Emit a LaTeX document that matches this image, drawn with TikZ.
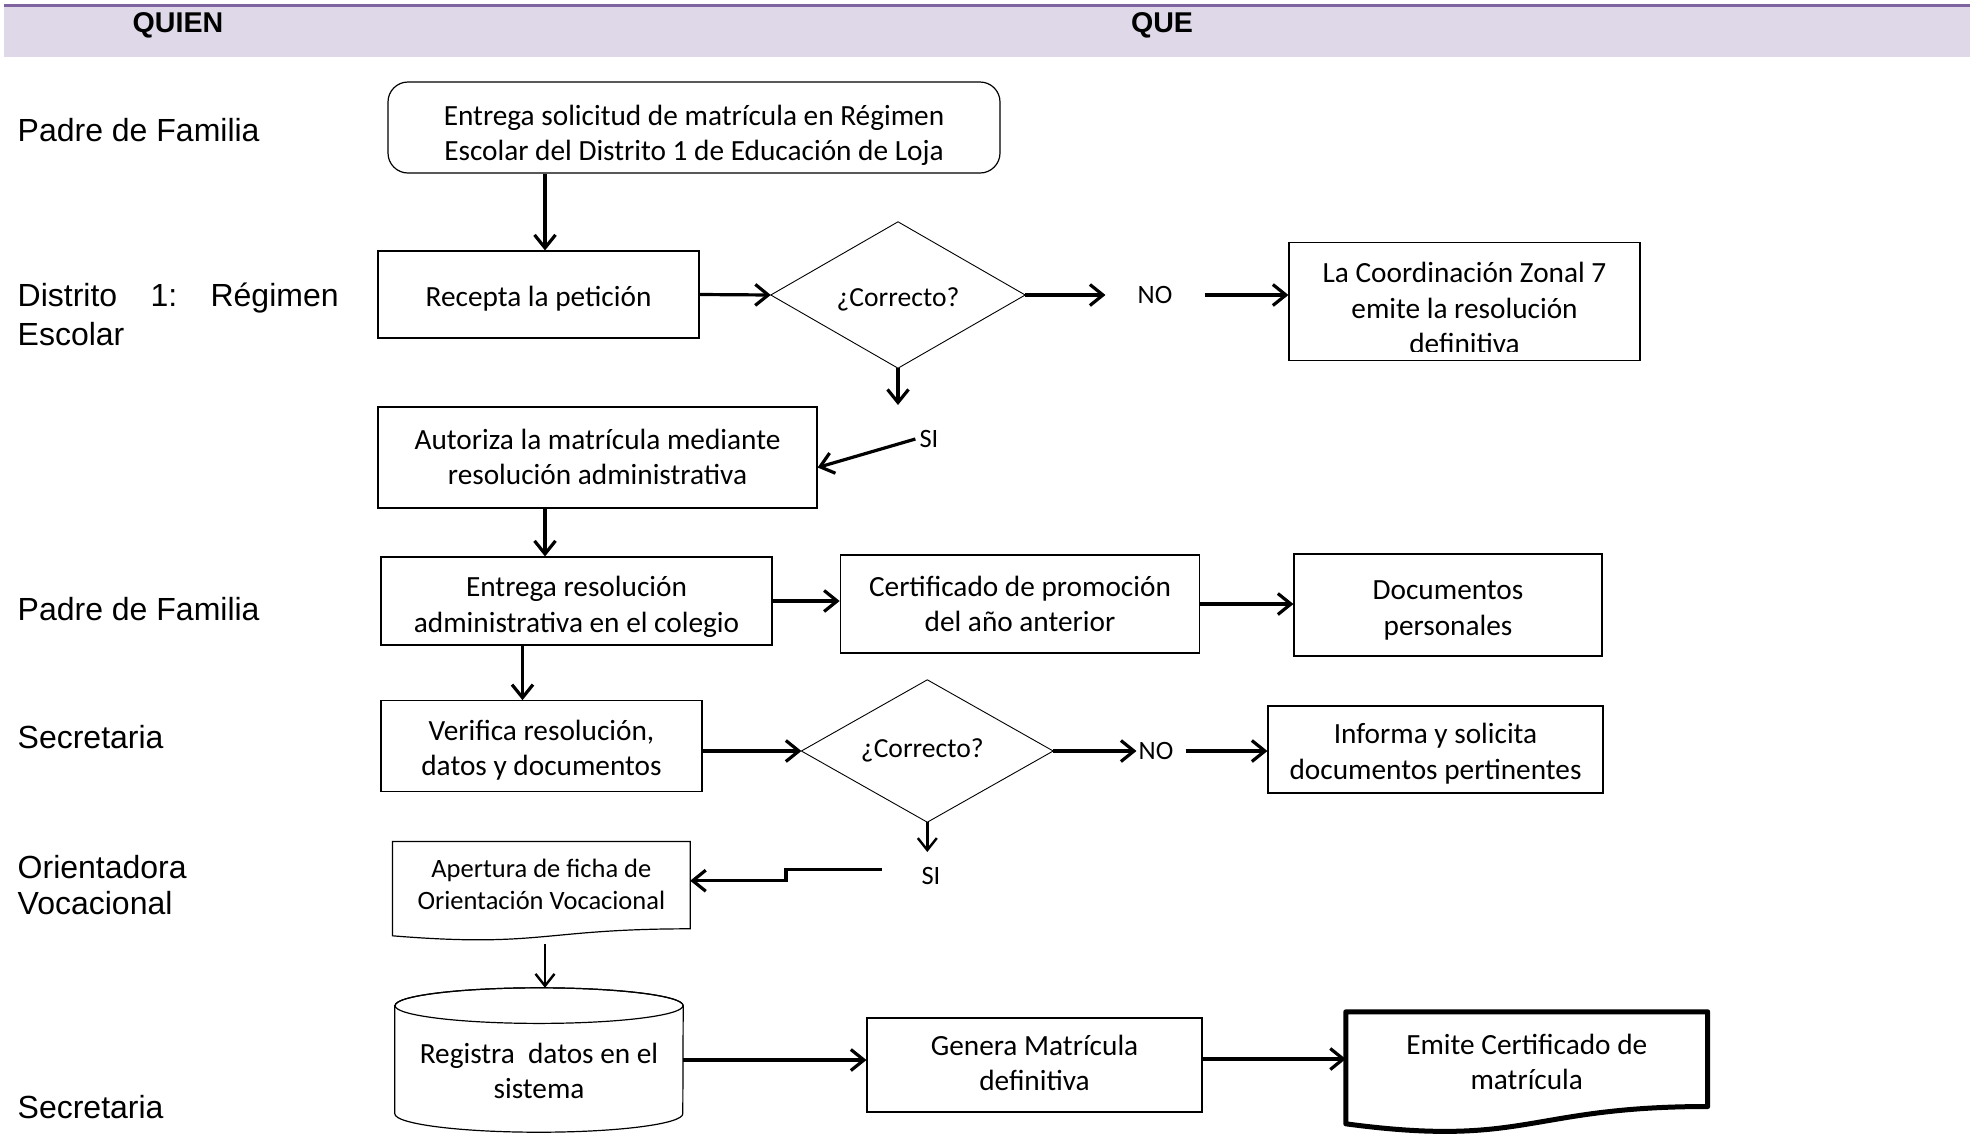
\documentclass[tikz,border=0pt]{standalone}
\usepackage{fontspec}
\setmainfont{Carlito}
\newfontfamily\labelfont{Liberation Sans}
\usetikzlibrary{arrows.meta,calc}
\definecolor{bandline}{HTML}{8064A2}
\definecolor{bandfill}{HTML}{DFD8E8}
\newcommand\boxsize{\fontsize{29.3}{35.6}\selectfont}
\newcommand\smallbox{\fontsize{26.5}{32}\selectfont}
\newcommand\asksize{\fontsize{27.6}{33}\selectfont}
\newcommand\whosize{\labelfont\fontsize{32}{38}\selectfont}
\newcommand\headsize{\labelfont\bfseries\fontsize{28.6}{34}\selectfont}
% centred lines of text, lowered by #1 pt without changing the box extents
\newcommand\drop[2]{\raisebox{-#1pt}[\height][\depth]{\begin{tabular}{@{}c@{}}#2\end{tabular}}}

\begin{document}
\begin{tikzpicture}[x=1pt,y=-1pt,
  every node/.style={inner sep=0pt},
  box/.style={draw=black,line width=1.2pt,fill=white,align=center,font=\boxsize},
  outline/.style={draw=black,line width=1.2pt,fill=white},
  thinline/.style={draw=black,line width=0.9pt},
  who/.style={anchor=base west,font=\whosize},
  tag/.style={font=\smallbox},
  arr/.style={line width=3.2pt,-{Straight Barb[length=13pt,width=21pt]}},
  arrthin/.style={line width=2.4pt,-{Straight Barb[length=12pt,width=19pt]}}
]
\useasboundingbox (0,0) rectangle (1970,1141);

% header band
\fill[bandfill] (4,6) rectangle (1970,57);
\fill[bandline] (4,3.5) rectangle (1970,7);
\node[font=\headsize] (hquien) at (178,25.5) {QUIEN};
\node[font=\headsize] (hque) at (1162,25.5) {QUE};

% who column
\node[who] (w1) at (17.5,141.5) {Padre de Familia};
\node[who] (w2a) at (17.5,306.7) {\makebox[321pt][l]{Distrito\hfill 1:\hfill Régimen}};
\node[who] (w2b) at (17.5,345) {Escolar};
\node[who] (w3) at (17.5,620) {Padre de Familia};
\node[who] (w4) at (17.5,748) {Secretaria};
\node[who] (w5a) at (17.5,878) {Orientadora};
\node[who] (w5b) at (17.5,914) {Vocacional};
\node[who] (w6) at (17.5,1118) {Secretaria};

% request and first check
\node[box,rounded corners=20pt,minimum width=612,minimum height=91] (n1) at (694,127.5)
  {\drop{8.5}{Entrega solicitud de matrícula en Régimen\\Escolar del Distrito 1 de Educación de Loja}};
\node[box,minimum width=321,minimum height=87] (n2) at (538.5,294.5) {\drop{5}{Recepta la petición}};
\node[minimum width=254,minimum height=146,font=\asksize] (d1) at (898,295) {\drop{4.5}{¿Correcto?}};
\draw[thinline] (d1.north) -- (d1.east) -- (d1.south) -- (d1.west) -- cycle;
\node[tag,inner xsep=32pt] (no1) at (1155,295) {NO};
\node[box,minimum width=351,minimum height=118] (n3) at (1464.5,301.5) {};
\begin{scope}
  \clip (n3.north west) rectangle ($(n3.south east)+(0,-9.5)$);
  \node[align=center,font=\boxsize] (n3t) at (1464.5,308)
    {La Coordinación Zonal 7\\emite la resolución\\definitiva};
\end{scope}
\coordinate (d1s) at (898,405);
\node[tag,inner sep=4pt] (si1) at (929,439) {SI};

% authorisation and documents
\node[box,minimum width=439,minimum height=101] (n4) at (597.5,457.5)
  {\drop{2.3}{Autoriza la matrícula mediante\\resolución administrativa}};
\node[box,minimum width=391,minimum height=88] (n5) at (576.5,601)
  {\drop{6.6}{Entrega resolución\\administrativa en el colegio}};
\node[box,minimum width=359.5,minimum height=98] (n6) at (1020,604)
  {\drop{3}{Certificado de promoción\\del año anterior}};
\node[box,minimum width=308,minimum height=102] (n7) at (1448,605)
  {\drop{5.4}{Documentos\\personales}};

% second check
\node[box,minimum width=321,minimum height=90.5] (n8) at (541.5,746)
  {\drop{4.8}{Verifica resolución,\\datos y documentos}};
\node[minimum width=251.4,minimum height=142,font=\asksize] (d2) at (927.3,751) {\drop{0}{¿Correcto?\kern10pt}};
\draw[thinline] (d2.north) -- (d2.east) -- (d2.south) -- (d2.west) -- cycle;
\node[tag,inner xsep=2pt] (no2) at (1156,751) {NO};
\node[box,minimum width=335,minimum height=87] (n9) at (1435.5,749.5)
  {\drop{4.8}{Informa y solicita\\documentos pertinentes}};
\coordinate (d2s) at (927.3,852);
\node[tag,inner sep=4pt] (si2) at (931,876) {SI};

% vocational record (document shape)
\node[minimum width=297.3,minimum height=98.3] (n10) at (541.35,890.85) {};
\draw[outline] (n10.north west) -- (n10.north east) -- ($(n10.north east)+(0,87.3)$)
  .. controls ($(n10.north)+(0,87.3)$) and ($(n10.north)+(0,106.4)$) .. ($(n10.north west)+(0,94.3)$) -- cycle;
\node[align=center,font=\smallbox] (n10t) at (541.35,884.8)
  {Apertura de ficha de\\Orientación Vocacional};

% database cylinder
\node[minimum width=288,minimum height=144] (n11) at (539,1060) {};
\path[outline] ($(n11.north west)+(0,17.8)$) -- ($(n11.south west)+(0,-18.5)$)
  arc[start angle=180,end angle=0,x radius=144,y radius=18.5]
  -- ($(n11.north east)+(0,17.8)$)
  arc[start angle=0,end angle=-180,x radius=144,y radius=17.8] -- cycle;
\draw[draw=black,line width=1.2pt] ($(n11.north)+(0,17.8)$) ellipse[x radius=144,y radius=17.8];
\node[align=center,font=\boxsize] (n11t) at (539,1070.8) {Registra\ \ datos en el\\sistema};

% final steps
\node[box,minimum width=335,minimum height=94] (n12) at (1034.5,1065)
  {\drop{1}{Genera Matrícula\\definitiva}};
\node[minimum width=361.5,minimum height=119.5] (n13) at (1526.75,1071.75) {};
\draw[draw=black,line width=5pt,fill=white,line join=round] (n13.north west) -- (n13.north east)
  -- ($(n13.north east)+(0,94.7)$)
  .. controls ($(n13.north)+(0,94.7)$) and ($(n13.north)+(0,136.2)$) .. ($(n13.north west)+(0,112)$) -- cycle;
\node[align=center,font=\boxsize] (n13t) at (1526.75,1062)
  {Emite Certificado de\\matrícula};

% connectors
\coordinate (a1) at ($(n2.north)+(6.5,0)$);
\draw[arr] (n1.south -| a1) -- (a1);
\draw[arr] (n2.east) -- (d1.west);
\draw[arr] (d1.east) -- (no1.west);
\draw[arr] (no1.east) -- (no1.east -| n3.west);
\draw[arr] (d1.south) -- (d1s);
\draw[arr] (si1.west) -- ($(n4.east)+(0,10)$);
\coordinate (a2) at ($(n4.south)+(-52.5,0)$);
\draw[arr] (a2) -- (a2 |- n5.north);
\draw[arr] (n5.east) -- (n5.east -| n6.west);
\draw[arr] (n6.east) -- (n6.east -| n7.west);
\coordinate (a3) at ($(n5.south)+(-54,0)$);
\draw[arr] (a3) -- (a3 |- n8.north);
\draw[arr] (n8.east |- d2.west) -- (d2.west);
\draw[arr] (d2.east) -- (no2.west);
\draw[arr] ($(no2.east)+(10,0)$) -- (no2.east -| n9.west);
\draw[arrthin] (d2.south) -- (d2s);
\coordinate (s1) at (881.7,869.3);
\coordinate (s2) at (786,880.7);
\draw[arr] (s1) -- (s1 -| s2) -- (s2) -- (s2 -| n10.east);
\coordinate (a4) at (545,944);
\draw[arrthin] (a4) -- (a4 |- n11.north);
\coordinate (a5) at ($(n12.west)+(0,-5)$);
\draw[arr] (a5 -| n11.east) -- (a5);
\coordinate (a6) at ($(n12.east)+(0,-6)$);
\draw[arr] (a6) -- (a6 -| n13.west);
\end{tikzpicture}
\end{document}
